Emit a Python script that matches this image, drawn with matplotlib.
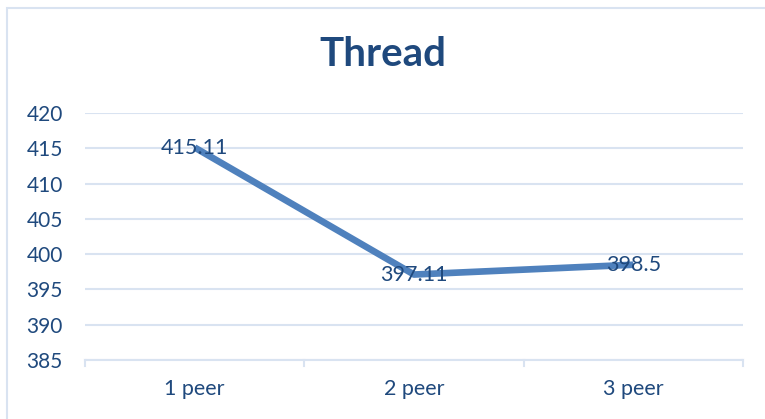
import matplotlib.pyplot as plt
from matplotlib.patches import Rectangle

categories = ["1 peer", "2 peer", "3 peer"]
values = [415.11, 397.11, 398.5]
labels = ["415.11", "397.11", "398.5"]
yticks = [385, 390, 395, 400, 405, 410, 415, 420]

text_color = "#1F497D"
line_color = "#4F81BD"
grid_color = "#D9E3F1"

plt.rcParams['font.family'] = ['Lato', 'DejaVu Sans']

fig = plt.figure(figsize=(7.65, 4.19), dpi=100)
ax = fig.add_axes([85 / 765, 1 - 360 / 419, (743 - 85) / 765, (360 - 113) / 419])

x = list(range(len(categories)))
ax.plot(x, values, color=line_color, linewidth=4.8, solid_capstyle='butt', zorder=3)
for xi, v, lab in zip(x, values, labels):
    ax.text(xi, v, lab, ha='center', va='center', fontsize=15.5, color=text_color, zorder=4)

ax.set_xlim(-0.5, 2.5)
ax.set_ylim(385, 420)
ax.set_yticks(yticks)
ax.yaxis.grid(True, color=grid_color, linewidth=1.5)
ax.set_axisbelow(True)
ax.set_xticks(x)
ax.set_xticklabels(categories)
ax.tick_params(axis='x', length=0, pad=14, labelsize=15.5, labelcolor=text_color)
ax.tick_params(axis='y', length=0, pad=16, labelsize=15, labelcolor=text_color)
for s in ['top', 'right', 'left']:
    ax.spines[s].set_visible(False)
ax.spines['bottom'].set_color(grid_color)
ax.spines['bottom'].set_linewidth(1.5)

# category separator ticks on x axis
for b in [-0.5, 0.5, 1.5, 2.5]:
    ax.plot([b, b], [0, -0.025], transform=ax.get_xaxis_transform(),
            color=grid_color, linewidth=1.5, clip_on=False)

fig.text(0.5, 1 - 55 / 419, "Thread", ha='center', va='center',
         fontsize=29, fontweight='bold', color=text_color)

fig.patches.append(Rectangle((7 / 765, -0.1), 1.2, 1 - 8 / 419 + 0.1,
                             transform=fig.transFigure, fill=False,
                             edgecolor=grid_color, linewidth=1.5))

fig.savefig("out.png", dpi=100)
